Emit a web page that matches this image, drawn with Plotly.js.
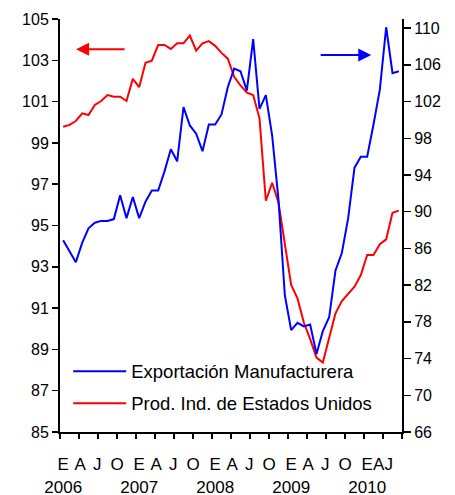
<!DOCTYPE html>
<html>
<head>
<meta charset="utf-8">
<script src="https://cdn.plot.ly/plotly-3.0.1.min.js"></script>
<style>html,body{margin:0;padding:0;background:#fff;}#chart{width:455px;height:495px;}</style>
</head>
<body>
<div id="chart"></div>
<script>
// Monthly data, Jan 2006 .. Jun 2010
var exportManuf = [86.9, 85.7, 84.5, 86.6, 88.2, 88.8, 89.0, 89.0, 89.2, 91.8, 89.3, 91.6,
  89.3, 91.1, 92.3, 92.3, 94.4, 96.8, 95.5, 101.4, 99.4, 98.5, 96.6, 99.5,
  99.5, 100.6, 103.6, 105.6, 105.3, 103.2, 108.8, 101.2, 102.7, 98.3, 91.3, 80.9,
  77.1, 77.9, 77.5, 77.7, 74.5, 77.0, 78.5, 83.6, 85.5, 89.3, 94.8, 96.0,
  96.0, 99.5, 103.3, 110.1, 105.1, 105.3];
var prodIndUS = [99.78, 99.87, 100.06, 100.43, 100.35, 100.84, 101.03, 101.32, 101.24, 101.24, 101.03, 102.1,
  101.7, 102.88, 102.98, 103.74, 103.74, 103.55, 103.82, 103.82, 104.2, 103.47, 103.82, 103.93,
  103.7, 103.36, 103.08, 102.2, 101.78, 101.43, 101.32, 100.19, 96.2, 97.07, 96.1, 94.1,
  92.12, 91.47, 90.3, 89.5, 88.6, 88.36, 89.5, 90.75, 91.34, 91.68, 92.04, 92.6,
  93.57, 93.57, 94.09, 94.33, 95.62, 95.72];
var seriesNames = ["Exportación Manufacturera", "Prod. Ind. de Estados Unidos"];
var tickPos = [0, 2.7, 5.4, 8.5, 12, 14.7, 17.4, 20.5, 24, 26.7, 29.4, 32.5, 36, 38.7, 41.4, 44.5, 48, 50.5];
var tickLabels = ["E<br>2006", "A", "J", "O", "E<br>2007", "A", "J", "O", "E<br>2008", "A", "J", "O",
  "E<br>2009", "A", "J", "O", "E<br>2010", "AJ"];
var leftTicks = [85, 87, 89, 91, 93, 95, 97, 99, 101, 103, 105];
var rightTicks = [66, 70, 74, 78, 82, 86, 90, 94, 98, 102, 106, 110];

var n = exportManuf.length;
var xs = exportManuf.map(function (_, i) { return i; });
var boundaries = [];
for (var b = -0.5; b <= n - 0.5 + 1e-9; b += 3) boundaries.push(b);

var FONT = "Liberation Sans, Arial, sans-serif";

var traces = [
  { x: xs, y: exportManuf, name: seriesNames[0], type: "scatter", mode: "lines", yaxis: "y2",
    line: { color: "#0000FF", width: 2 }, legendgroup: "a" },
  { x: xs, y: prodIndUS, name: seriesNames[1], type: "scatter", mode: "lines", yaxis: "y",
    line: { color: "#FF0000", width: 2 }, legendgroup: "b" }
];

var layout = {
  width: 455, height: 495,
  margin: { l: 60, r: 53, t: 19, b: 63, pad: 0 },
  paper_bgcolor: "#fff", plot_bgcolor: "#fff",
  font: { family: FONT, color: "#000", size: 16 },
  showlegend: true,
  legend: { x: 0.024, y: 0.192, xanchor: "left", yanchor: "top", bgcolor: "rgba(0,0,0,0)",
    font: { family: FONT, size: 18.5, color: "#000" }, traceorder: "grouped", tracegroupgap: 5, itemwidth: 53 },
  xaxis: {
    range: [-0.5, n - 0.5], showgrid: false, zeroline: false,
    showline: true, linecolor: "#000", linewidth: 2,
    tickmode: "array", tickvals: tickPos, ticktext: tickLabels, ticks: "", tickangle: 0,
    tickfont: { family: FONT, size: 17, color: "#000" }, ticklabelstandoff: 16,
    minor: { tickmode: "array", tickvals: boundaries, ticks: "outside", ticklen: 5, tickwidth: 1.5, tickcolor: "#000", showgrid: false }
  },
  yaxis: {
    range: [85, 105], showgrid: false, zeroline: false,
    showline: true, linecolor: "#000", linewidth: 2,
    tickmode: "array", tickvals: leftTicks, ticks: "outside", ticklen: 6, tickwidth: 1.5, tickcolor: "#000",
    tickfont: { family: FONT, size: 16, color: "#000" }
  },
  yaxis2: {
    range: [66, 111], overlaying: "y", side: "right", showgrid: false, zeroline: false,
    showline: true, linecolor: "#000", linewidth: 2,
    tickmode: "array", tickvals: rightTicks, ticks: "outside", ticklen: 7, tickwidth: 1.5, tickcolor: "#000",
    tickfont: { family: FONT, size: 16, color: "#000" }
  },
  annotations: [
    { xref: "paper", yref: "paper", x: 0.047, y: 0.927, ax: 50, ay: 0, axref: "pixel", ayref: "pixel",
      text: "", showarrow: true, arrowcolor: "#FF0000", arrowwidth: 2, arrowhead: 2, arrowsize: 1.3 },
    { xref: "paper", yref: "paper", x: 0.91, y: 0.913, ax: -52, ay: 0, axref: "pixel", ayref: "pixel",
      text: "", showarrow: true, arrowcolor: "#0000FF", arrowwidth: 2, arrowhead: 2, arrowsize: 1.3 }
  ]
};

Plotly.newPlot("chart", traces, layout, { displayModeBar: false, staticPlot: true });
</script>
</body>
</html>
